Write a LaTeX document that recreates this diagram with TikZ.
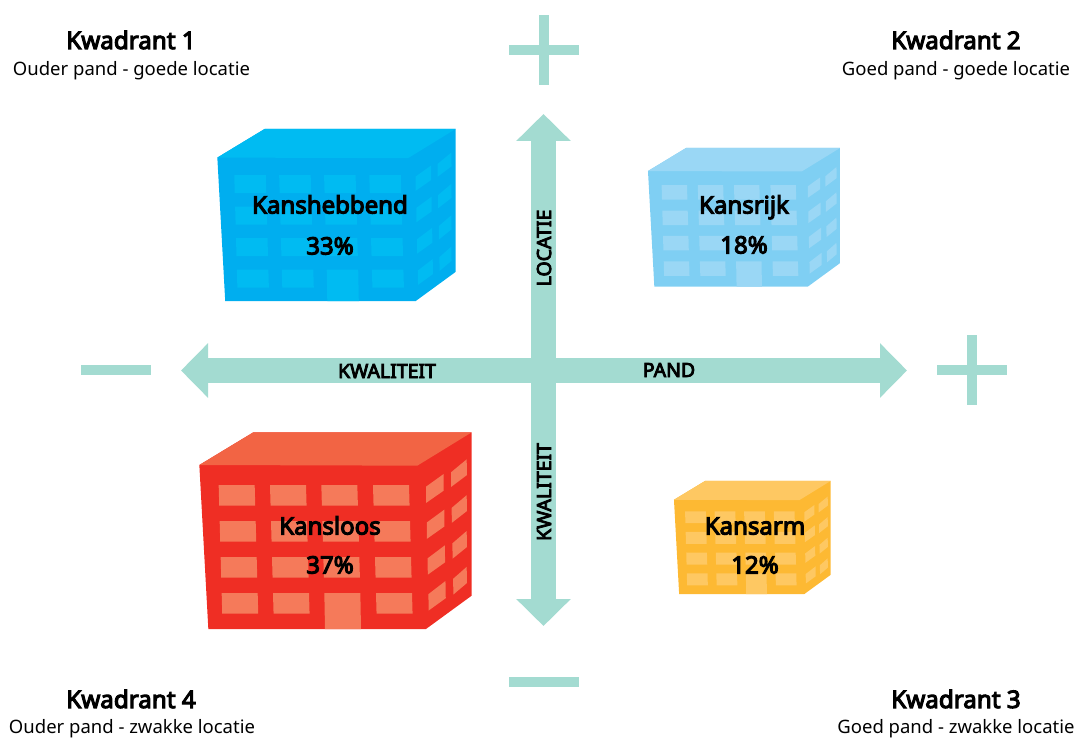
\documentclass[tikz,border=0pt]{standalone}
\usepackage{fontspec}
\setmainfont{Noto Sans}
\newfontfamily\heavyfont[FakeBold=4.5]{Noto Sans}
\usetikzlibrary{arrows.meta}
\definecolor{axis}{HTML}{A3DBD1}
\definecolor{blueBody}{HTML}{00AEEF}
\definecolor{blueTop}{HTML}{00BBF2}
\definecolor{skyBody}{HTML}{7FCFF3}
\definecolor{skyTop}{HTML}{9AD7F5}
\definecolor{redBody}{HTML}{EF2E24}
\definecolor{redTop}{HTML}{F26444}
\definecolor{redWin}{HTML}{F57A5A}
\definecolor{yelBody}{HTML}{FDB933}
\definecolor{yelTop}{HTML}{FEC862}
\tikzset{
  axisline/.style={draw=axis,line width=25pt,{Triangle[length=27pt,width=53pt]}-{Triangle[length=27pt,width=53pt]}},
  signbar/.style={fill=axis,draw=none},
  kwadtitle/.style={font=\heavyfont\fontsize{24.2}{26}\selectfont,inner sep=0pt,anchor=base},
  kwadsub/.style={font=\fontsize{18.5}{20}\selectfont,inner sep=0pt,anchor=base},
  buildlabel/.style={font=\heavyfont\fontsize{24}{26}\selectfont,inner sep=0pt,anchor=base},
  axislabel/.style={font=\heavyfont\fontsize{19.5}{21}\selectfont,inner sep=0pt,anchor=base},
}
\newcommand{\building}[6]{%
 \begin{scope}[shift={(#1,#2)},xscale=#3/3,yscale=#3/3]
  \fill[#4] (28,135) -- (190,37) -- (845,37) -- (845,527) -- (708,627) -- (55,627) -- cycle;
  \fill[#5] (28,135) -- (190,37) -- (845,37) -- (682,137) -- cycle;
  \foreach \r/\d in {0/0,1/3,2/6,3/9}{
    \foreach \c/\xx in {0/86,1/240,2/394,3/549}{
      \ifnum\r\c=32 \else
      \fill[#6] ({\xx+\d},{195+108*\r}) -- ({\xx+108+\d},{195+108*\r}) -- ({\xx+109.7+\d},{257+108*\r}) -- ({\xx+1.7+\d},{257+108*\r}) -- cycle;
      \fi
    }
    \fill[#6] ({708+\d*0.8},{200+107.5*\r}) -- ({761+\d*0.6},{162+107*\r}) -- ({761+\d*0.7},{212+107.5*\r}) -- ({708+\d*0.9},{249+107.5*\r}) -- cycle;
    \fill[#6] ({783+\d*0.7},{157+106.5*\r}) -- (830,{118+107.5*\r}) -- (831,{165+108*\r}) -- ({783+\d*0.8},{201+107.5*\r}) -- cycle;
  }
  \fill[#6] (403,519) -- (511,519) -- (513,627) -- (405,627) -- cycle;
 \end{scope}}
\begin{document}
\begin{tikzpicture}[x=1pt,y=-1pt]
\useasboundingbox (0,0) rectangle (1079,738);
% buildings
\building{209.17}{118.2}{0.875}{blueBody}{blueTop}{blueTop}
\building{641.4}{139.3}{0.705}{skyBody}{skyTop}{skyTop}
\building{190}{420}{1}{redBody}{redTop}{redWin}
\building{668.6}{473.9}{0.575}{yelBody}{yelTop}{yelTop}
% axes
\coordinate (arrowL) at (181,370.5);
\coordinate (arrowR) at (907,370.5);
\coordinate (arrowT) at (543.5,114);
\coordinate (arrowB) at (543.5,626);
\draw[axisline] (arrowL) -- (arrowR);
\draw[axisline] (arrowT) -- (arrowB);
% plus and minus signs
\fill[signbar] (509,45) rectangle (579,55);
\fill[signbar] (539,15) rectangle (549,85);
\fill[signbar] (937,365) rectangle (1007,375);
\fill[signbar] (967,335) rectangle (977,405);
\fill[signbar] (81,365) rectangle (151,375);
\fill[signbar] (509,677) rectangle (579,687);
% axis labels
\node[axislabel] (kwalL) at (387,378) {KWALITEIT};
\node[axislabel] (pand) at (669,377) {PAND};
\node[axislabel,rotate=90] (locatie) at (551,248) {LOCATIE};
\node[axislabel,rotate=90] (kwalB) at (551,492) {KWALITEIT};
% building labels
\node[buildlabel] (kh) at (330,213.5) {Kanshebbend};
\node[buildlabel] (khp) at (330,254.5) {33\%};
\node[buildlabel] (kr) at (744,213.5) {Kansrijk};
\node[buildlabel] (krp) at (744,253.5) {18\%};
\node[buildlabel] (kl) at (330,534.5) {Kansloos};
\node[buildlabel] (klp) at (330,573.5) {37\%};
\node[buildlabel] (ka) at (755,534.5) {Kansarm};
\node[buildlabel] (kap) at (755,573.5) {12\%};
% quadrant captions
\node[kwadtitle] (q1) at (131,49) {Kwadrant 1};
\node[kwadsub] (q1s) at (131.5,75.5) {Ouder pand - goede locatie};
\node[kwadtitle] (q2) at (956,49) {Kwadrant 2};
\node[kwadsub] (q2s) at (956,75.5) {Goed pand - goede locatie};
\node[kwadtitle] (q4) at (131,708) {Kwadrant 4};
\node[kwadsub] (q4s) at (132,733) {Ouder pand - zwakke locatie};
\node[kwadtitle] (q3) at (956,708) {Kwadrant 3};
\node[kwadsub] (q3s) at (956,733) {Goed pand - zwakke locatie};
\end{tikzpicture}
\end{document}
